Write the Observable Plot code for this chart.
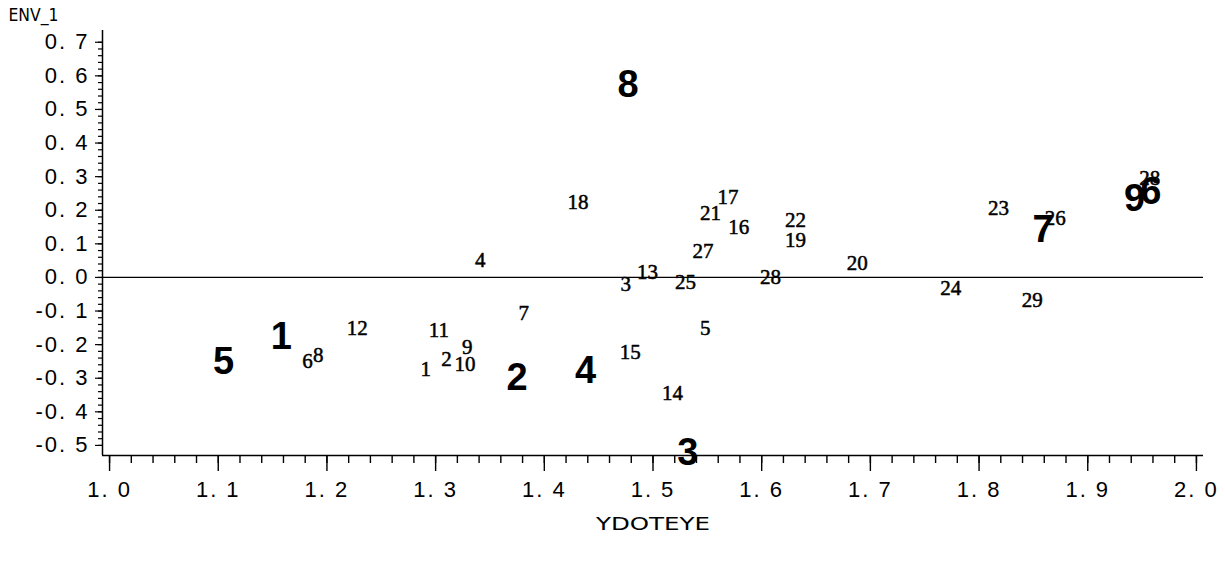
<!DOCTYPE html>
<html><head><meta charset="utf-8">
<script src="https://cdn.jsdelivr.net/npm/d3@7"></script>
<script src="https://cdn.jsdelivr.net/npm/@observablehq/plot@0.6"></script>
<style>body{margin:0;background:#fff}</style>
</head><body><div id="chart"></div>
<script>
// axis settings
const xDomain = [0.9935, 2.0065];
const yDomain = [-0.53, 0.735];
const xMajorTicks = [1.0, 1.1, 1.2, 1.3, 1.4, 1.5, 1.6, 1.7, 1.8, 1.9, 2.0];
const yMajorTicks = [-0.5, -0.4, -0.3, -0.2, -0.1, 0.0, 0.1, 0.2, 0.3, 0.4, 0.5, 0.6, 0.7];
const xTitle = "YDOTEYE";
const yTitle = "ENV_1";

// large (group) labels
const groupLabels = ["1", "2", "3", "4", "5", "6", "7", "8", "9"];
const groupX = [1.158, 1.375, 1.532, 1.438, 1.105, 1.958, 1.859, 1.477, 1.943];
const groupY = [-0.176, -0.298, -0.521, -0.277, -0.250, 0.256, 0.143, 0.574, 0.235];

// small (individual) labels
const pointLabels = ["1","2","3","4","5","6","7","8","9","10","11","12","13","14","15",
  "16","17","18","19","20","21","22","23","24","25","26","27","28","29","28"];
const pointX = [1.291, 1.310, 1.475, 1.341, 1.548, 1.182, 1.381, 1.192, 1.329, 1.327,
  1.303, 1.228, 1.495, 1.518, 1.479, 1.579, 1.569, 1.431, 1.631, 1.688,
  1.553, 1.631, 1.818, 1.774, 1.530, 1.870, 1.546, 1.608, 1.849, 1.957];
const pointY = [-0.274, -0.244, -0.021, 0.051, -0.152, -0.250, -0.107, -0.232, -0.208, -0.259,
  -0.158, -0.152, 0.015, -0.345, -0.223, 0.149, 0.238, 0.223, 0.110, 0.042,
  0.190, 0.170, 0.205, -0.033, -0.015, 0.176, 0.077, 0.000, -0.068, 0.295];

const groups = groupLabels.map((l, i) => ({label: l, x: groupX[i], y: groupY[i]}));
const points = pointLabels.map((l, i) => ({label: l, x: pointX[i], y: pointY[i]}));

const xMinor = d3.range(0, 51).map(i => +(1 + i * 0.02).toFixed(2));
const yMinor = d3.range(-25, 36).map(i => +(i * 0.02).toFixed(2));
const fmt = d => (d < 0 ? "-" : "") + Math.abs(d).toFixed(1).replace(".", ". ");

const chart = Plot.plot({
  width: 1225,
  height: 563,
  marginLeft: 102,
  marginRight: 22,
  marginTop: 30,
  marginBottom: 108,
  style: {background: "#fff", color: "#000"},
  x: {domain: xDomain, label: null},
  y: {domain: yDomain, label: null},
  marks: [
    Plot.axisX(xMinor, {tickSize: 8, tickFormat: null, text: null, strokeWidth: 1.4}),
    Plot.axisX(xMajorTicks, {tickSize: 16, tickPadding: 10, tickFormat: fmt, fontSize: 22, fontFamily: "Liberation Sans, Arial, sans-serif", strokeWidth: 1.4}),
    Plot.axisY(yMinor, {tickSize: 4, tickFormat: null, text: null, strokeWidth: 1.2}),
    Plot.axisY(yMajorTicks, {tickSize: 7, tickPadding: 6, tickFormat: fmt, fontSize: 22, fontFamily: "Liberation Sans, Arial, sans-serif", strokeWidth: 1.2}),
    Plot.ruleX([xDomain[0]], {strokeWidth: 1.5}),
    Plot.ruleY([yDomain[0]], {strokeWidth: 1.5}),
    Plot.ruleY([0], {strokeWidth: 1.3}),
    Plot.text(points, {x: "x", y: "y", text: "label", fontSize: 21, fontFamily: "Liberation Serif, Times New Roman, serif", fill: "#000", stroke: "#000", strokeWidth: 0.5}),
    Plot.text(groups, {x: "x", y: "y", text: "label", fontSize: 38, fontWeight: "bold", fontFamily: "Liberation Sans, Arial, sans-serif", fill: "#000"}),
    Plot.text([yTitle], {frameAnchor: "top-left", dx: -94, dy: -15, textAnchor: "start", lineAnchor: "middle", fontSize: 18, fontFamily: "DejaVu Sans Condensed, DejaVu Sans, sans-serif", fill: "#000"}),
    Plot.text([xTitle], {frameAnchor: "bottom", dy: 69, textAnchor: "middle", lineAnchor: "middle", fontSize: 18, fontFamily: "DejaVu Sans Condensed, DejaVu Sans, sans-serif", fill: "#000"})
  ]
});
document.getElementById("chart").appendChild(chart);

// spacing tweaks to mimic the original wide tick labels and condensed titles
d3.select(chart).selectAll('[aria-label="x-axis tick label"] text, [aria-label="y-axis tick label"] text')
  .attr("letter-spacing", "2px");
d3.select(chart).selectAll("text").each(function() {
  const t = this.textContent;
  if (t === yTitle) d3.select(this).attr("textLength", 50).attr("lengthAdjust", "spacingAndGlyphs");
  if (t === xTitle) d3.select(this).attr("textLength", 114).attr("lengthAdjust", "spacingAndGlyphs");
});
</script>
</body></html>
